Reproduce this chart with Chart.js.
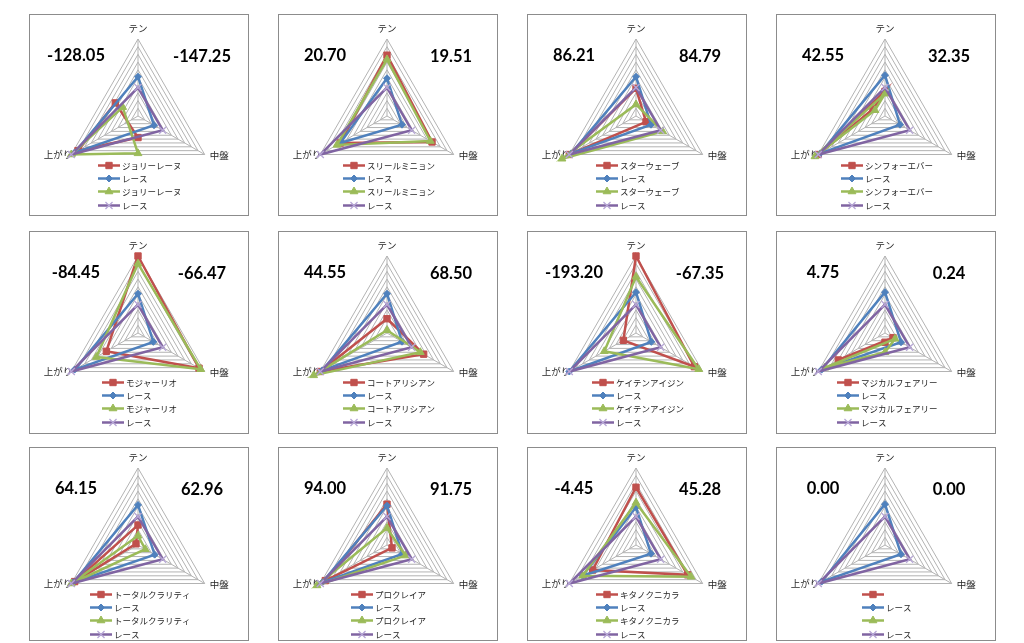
<!DOCTYPE html>
<html lang="ja">
<head>
<meta charset="utf-8">
<script src="https://cdn.jsdelivr.net/npm/chart.js@4.4.1/dist/chart.umd.min.js"></script>
<style>
  body { margin: 0; background: #fff; width: 1024px; height: 643px; overflow: hidden; position: relative; }
  .panel { position: absolute; width: 220px; box-sizing: border-box; border: 1px solid #8c8c8c; background: #fff; }
  .panel canvas { position: absolute; left: 0; top: 0; }
  .score { position: absolute; font: bold 16.5px Lato, sans-serif; color: #000; transform: translate(-50%, -50%); white-space: nowrap; }
</style>
</head>
<body>
<script>
// 軸ラベル
const axisLabels = ['テン', '中盤', '上がり'];
// 馬名（最後のチャートは空欄）
const horseNames = ['ジョリーレーヌ', 'スリールミニョン', 'スターウェーブ', 'シンフォーエバー',
  'モジャーリオ', 'コートアリシアン', 'ケイテンアイジン', 'マジカルフェアリー',
  'トータルクラリティ', 'プロクレイア', 'キタノクニカラ', ''];
const raceName = 'レース';
// 左右の数値
const leftScores = ['-128.05', '20.70', '86.21', '42.55', '-84.45', '44.55', '-193.20', '4.75', '64.15', '94.00', '-4.45', '0.00'];
const rightScores = ['-147.25', '19.51', '84.79', '32.35', '-66.47', '68.50', '-67.35', '0.24', '62.96', '91.75', '45.28', '0.00'];
// 各チャートの値 [テン, 中盤, 上がり]
const horseA = [
  [-2.8, -3.4, 9], [7.9, 6.75, 7], [3.6, 1.5, 10], [3.2, -1.8, 10],
  [10, 9.15, 4.75], [1.85, 5.5, 10], [10, 8.75, 1.9], [-1.2, 1.2, 7],
  [2.6, -0.3, 9.5], [5.3, 0.75, 9.25], [7.5, 7.75, 6.5], [null, null, null]
];
const raceA = [
  [5.1, 2.4, 9.5], [4.9, 2.25, 7], [5.1, 2.25, 9.7], [5.3, 2.25, 9.7],
  [5.1, 2.3, 9.5], [5.1, 2.25, 9.7], [5.3, 2.3, 10], [5.3, 2.4, 9.5],
  [5.2, 2.5, 9.7], [5.1, 2.3, 9.7], [4.9, 2.25, 8], [5.3, 2.4, 9.5]
];
const horseB = [
  [-4.85, -2.3, 10], [7.35, 6.5, 7.5], [1.5, 4, 11.1], [2.9, -1.5, 10.5],
  [9, 9.4, 6.25], [0.35, 5, 11], [7.3, 9.4, 4.75], [-2.5, 1.5, 9],
  [1.2, 1.1, 10], [2.2, 2.75, 10.5], [5.5, 8.25, 8], [null, null, null]
];
const raceB = [
  [3.7, 3.7, 10], [3.7, 3.7, 10], [3.7, 3.7, 10], [3.7, 3.7, 10],
  [3.7, 3.7, 10], [3.7, 3.7, 10], [3.7, 3.7, 10], [3.7, 3.7, 10],
  [3.7, 3.7, 10], [3.7, 3.7, 10], [3.7, 3.7, 10], [3.7, 3.7, 10]
];

// 配置
const colLeft = [29, 278, 527, 776];
const rowTop = [14, 231, 447];
const rowHeight = [202, 203, 194];
const rowCenterY = [101, 101, 97];
const radius = 77;

// 系列スタイル（赤・青・緑・紫）
const styles = [
  { color: '#C0504D', point: 'rect', r: 4.5, pointColor: '#C0504D', pw: 1 },
  { color: '#4F81BD', point: 'rectRot', r: 3.5, pointColor: '#4F81BD', pw: 1 },
  { color: '#9BBB59', point: 'triangle', r: 4.5, pointColor: '#9BBB59', pw: 1 },
  { color: '#8064A2', point: 'crossRot', r: 5, pointColor: '#B7A7D6', pw: 1.3 }
];

const panelText = {
  id: 'panelText',
  beforeDatasetsDraw(chart) {
    const ctx = chart.ctx;
    const r = chart.scales.r;
    const top = r.getPointPosition(0, r.drawingArea);
    const right = r.getPointPosition(1, r.drawingArea);
    const left = r.getPointPosition(2, r.drawingArea);
    ctx.save();
    ctx.fillStyle = '#262626';
    ctx.font = '9.5px "Noto Sans CJK JP"';
    ctx.textBaseline = 'middle';
    ctx.textAlign = 'center';
    ctx.fillText(axisLabels[0], top.x, top.y - 11);
    ctx.textAlign = 'left';
    ctx.fillText(axisLabels[1], right.x + 5, right.y + 1);
    ctx.textAlign = 'right';
    ctx.fillText(axisLabels[2], left.x + 1, left.y);
    ctx.restore();
  },
  afterDraw(chart) {
    // 凡例（縦並び）
    const ctx = chart.ctx;
    const r = chart.scales.r;
    const sets = chart.data.datasets;
    ctx.save();
    ctx.font = '8.5px "Noto Sans CJK JP"';
    const textW = Math.max(...sets.map(d => ctx.measureText(d.label).width));
    const x0 = Math.round(r.xCenter + 2 - (24 + textW) / 2);
    sets.forEach((ds, i) => {
      const s = styles[i];
      const y = Math.round(r.yCenter + 48.5 + i * 13.4) + 0.5;
      ctx.strokeStyle = s.color;
      ctx.lineWidth = 2.5;
      ctx.beginPath();
      ctx.moveTo(x0, y);
      ctx.lineTo(x0 + 22, y);
      ctx.stroke();
      ctx.fillStyle = s.pointColor;
      ctx.strokeStyle = s.pointColor;
      ctx.lineWidth = s.pw;
      Chart.helpers.drawPoint(ctx, { pointStyle: s.point, radius: s.r, borderWidth: s.pw, rotation: 0 }, x0 + 11, y);
      ctx.fillStyle = '#262626';
      ctx.textAlign = 'left';
      ctx.textBaseline = 'middle';
      ctx.fillText(ds.label, x0 + 24, y);
    });
    ctx.restore();
  }
};

function makeDataset(label, values, i) {
  const s = styles[i];
  return {
    label: label,
    data: values,
    borderColor: s.color,
    borderWidth: 2.5,
    backgroundColor: 'transparent',
    fill: false,
    pointStyle: s.point,
    pointRadius: s.r,
    pointBackgroundColor: s.pointColor,
    pointBorderColor: s.pointColor,
    pointBorderWidth: s.pw,
    order: 3 - i
  };
}

horseNames.forEach((name, p) => {
  const row = Math.floor(p / 4);
  const col = p % 4;
  const h = rowHeight[row];
  const panel = document.createElement('div');
  panel.className = 'panel';
  panel.style.left = colLeft[col] + 'px';
  panel.style.top = rowTop[row] + 'px';
  panel.style.height = h + 'px';
  document.body.appendChild(panel);

  const canvas = document.createElement('canvas');
  const cw = 218, ch = h - 2;
  canvas.width = cw;
  canvas.height = ch;
  canvas.style.width = cw + 'px';
  canvas.style.height = ch + 'px';
  panel.appendChild(canvas);

  const l = document.createElement('div');
  l.className = 'score';
  l.style.left = '46px';
  l.style.top = '40px';
  l.textContent = leftScores[p];
  panel.appendChild(l);
  const rt = document.createElement('div');
  rt.className = 'score';
  rt.style.left = '172px';
  rt.style.top = '41px';
  rt.textContent = rightScores[p];
  panel.appendChild(rt);

  const cx = 108, cy = rowCenterY[row];
  new Chart(canvas.getContext('2d'), {
    type: 'radar',
    data: {
      labels: axisLabels,
      datasets: [
        makeDataset(name, horseA[p], 0),
        makeDataset(raceName, raceA[p], 1),
        makeDataset(name, horseB[p], 2),
        makeDataset(raceName, raceB[p], 3)
      ]
    },
    options: {
      responsive: false,
      animation: false,
      events: [],
      layout: {
        padding: { left: cx - radius, right: cw - cx - radius, top: cy - radius, bottom: ch - cy - radius }
      },
      elements: { line: { tension: 0 } },
      plugins: { legend: { display: false }, tooltip: { enabled: false } },
      scales: {
        r: {
          min: 0,
          max: 10,
          ticks: { stepSize: 1, display: false },
          grid: { color: '#B3B3B3', lineWidth: 1 },
          angleLines: { color: '#B3B3B3', lineWidth: 1 },
          pointLabels: { display: false }
        }
      }
    },
    plugins: [panelText]
  });
});
</script>
</body>
</html>
